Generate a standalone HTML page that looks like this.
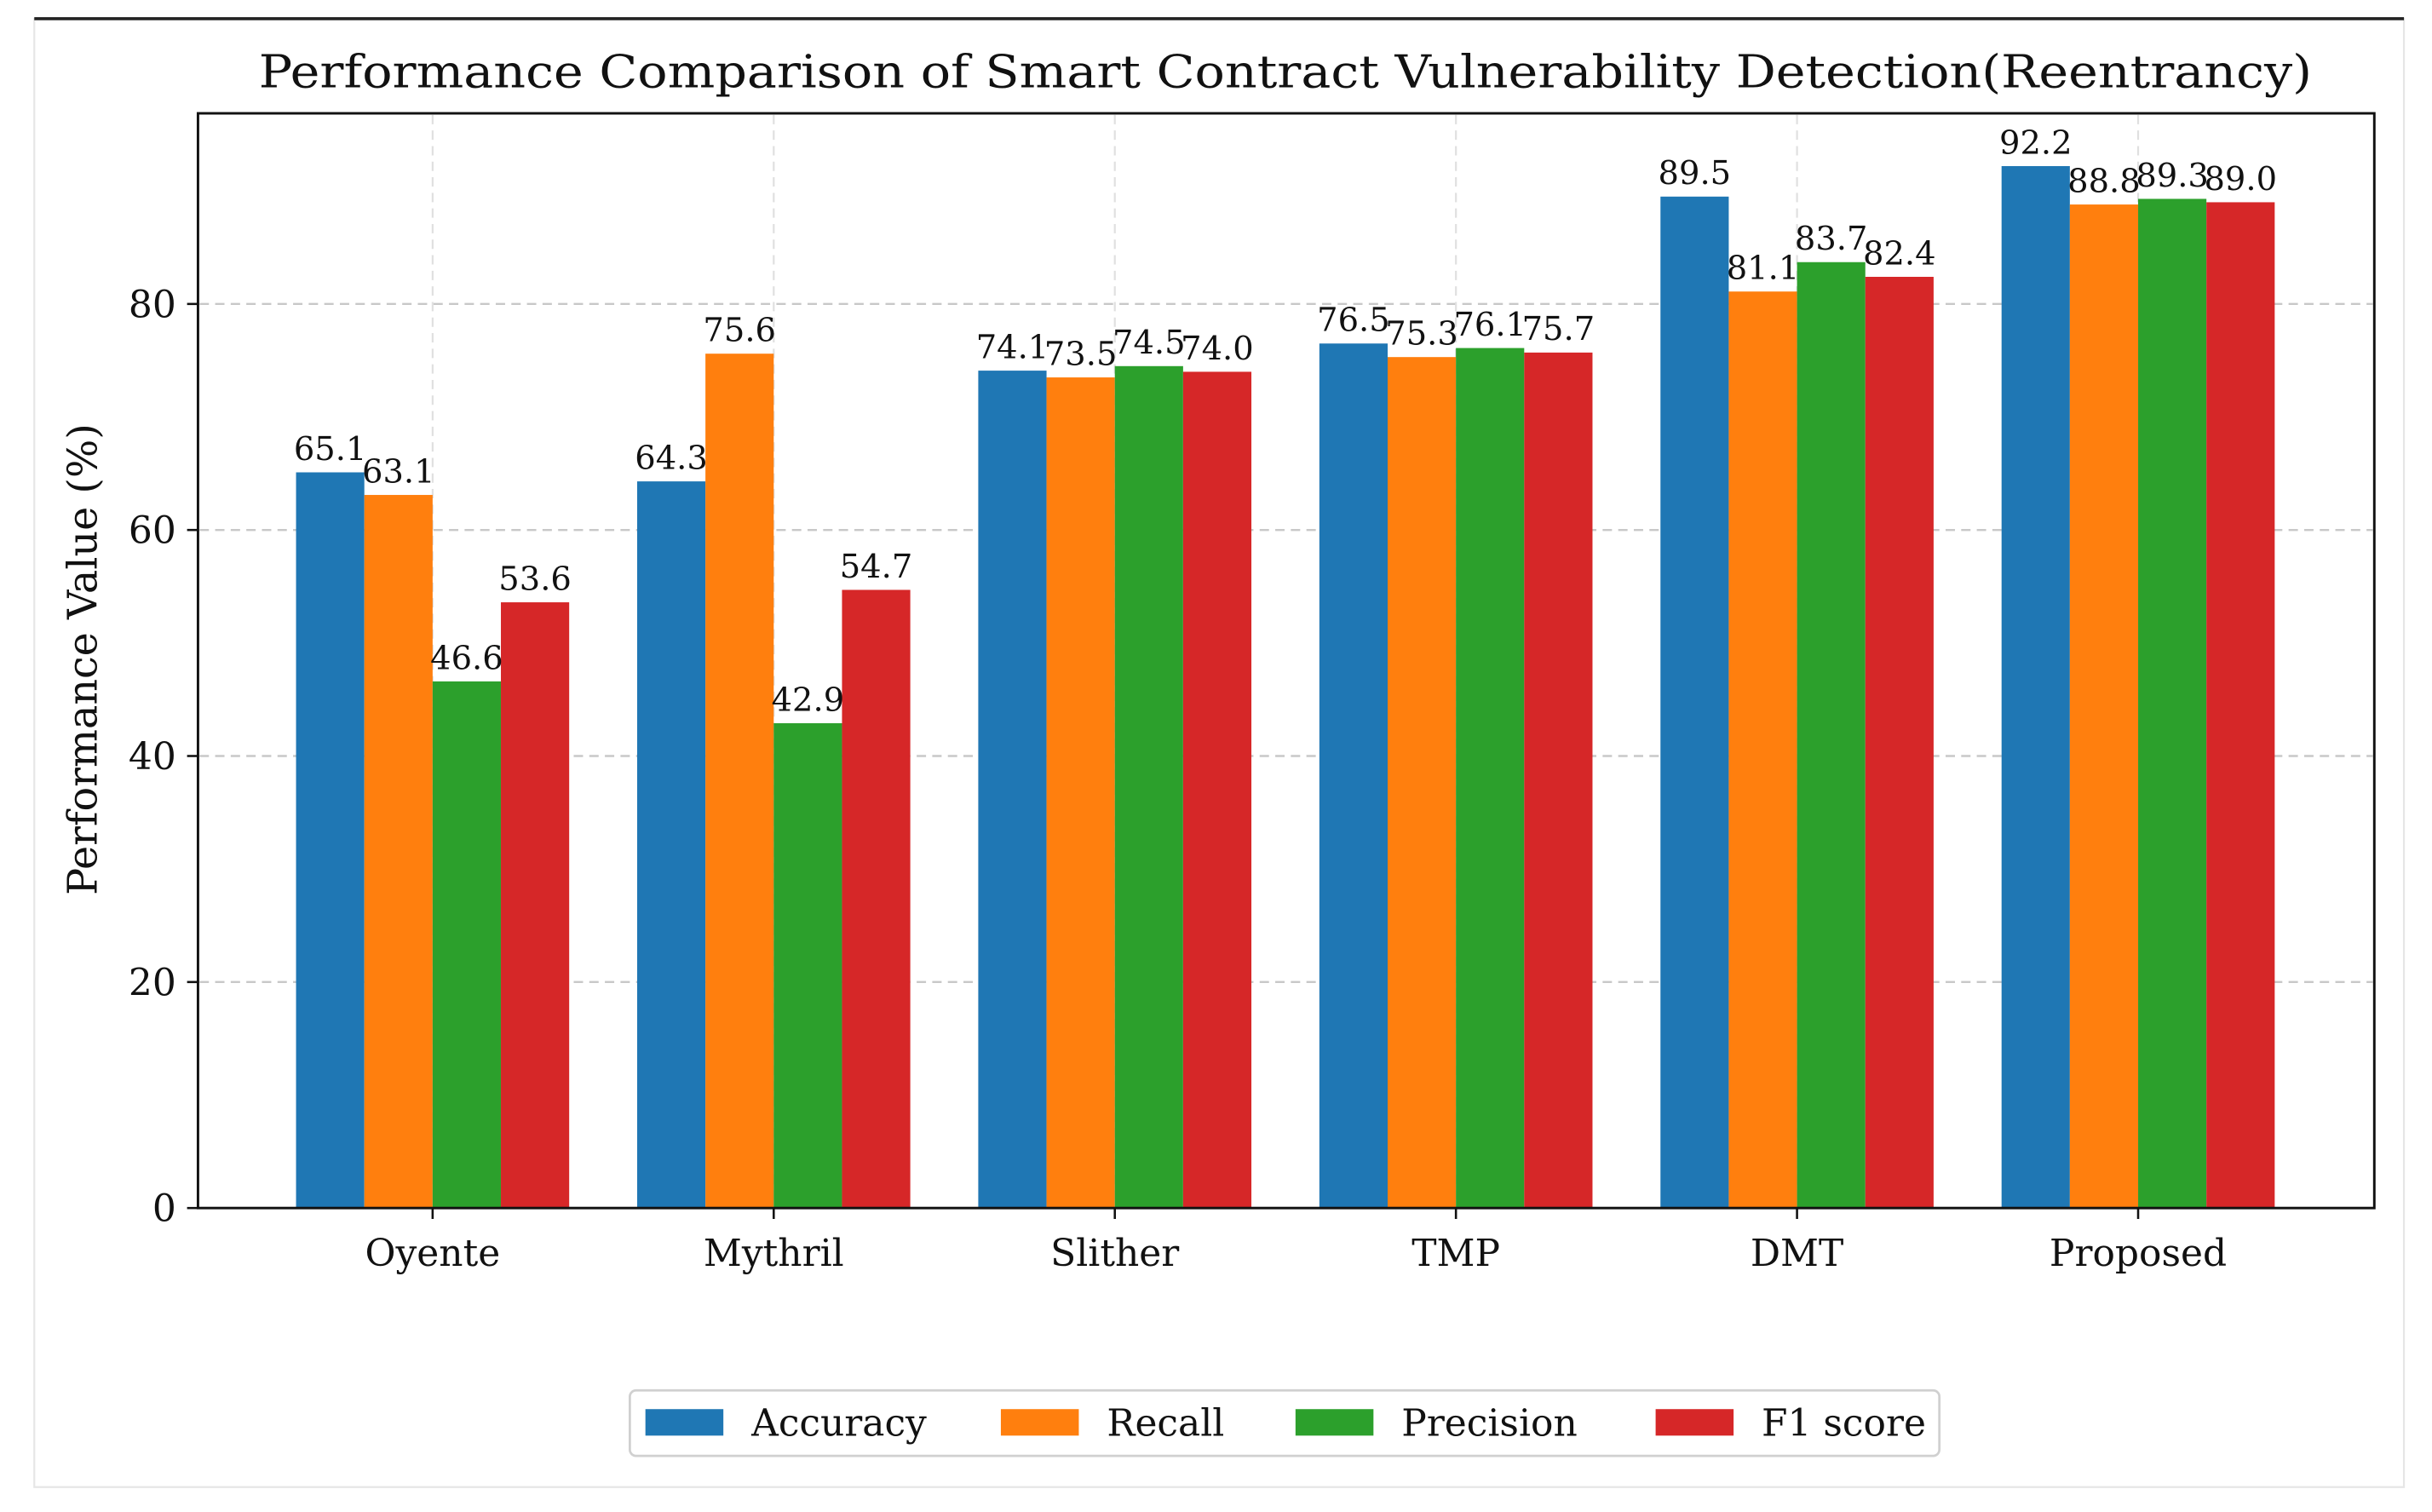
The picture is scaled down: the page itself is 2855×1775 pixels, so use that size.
<!DOCTYPE html>
<html><head><meta charset="utf-8"><style>
html,body{margin:0;padding:0;background:#fff;}
svg{display:block;}
text{font-family:"DejaVu Serif","Liberation Serif",serif;fill:#111;}
</style></head><body>
<svg id="chart" width="2855" height="1775" viewBox="0 0 1560 970" preserveAspectRatio="none" xmlns="http://www.w3.org/2000/svg">
<rect x="0" y="0" width="1560" height="970" fill="#fff"/>
<rect x="22" y="12" width="1520" height="942" fill="none" stroke="#e6e6e6" stroke-width="1.2"/>
<line x1="22" y1="12" x2="1542" y2="12" stroke="#222" stroke-width="2"/>
<text x="824.5" y="56" text-anchor="middle" font-size="29" textLength="1317" lengthAdjust="spacingAndGlyphs">Performance Comparison of Smart Contract Vulnerability Detection(Reentrancy)</text>
<g id="grid"></g>
<g id="bars"></g>
<g id="labels"></g>
<rect x="127" y="72.7" width="1396" height="702.3" fill="none" stroke="#111" stroke-width="1.6"/>
<g id="axes"></g>
<text transform="translate(62,423) rotate(-90)" text-anchor="middle" font-size="26">Performance Value (%)</text>
<g id="legend">
<rect x="404" y="892" width="840" height="42" rx="4" fill="#fff" stroke="#d0d0d0" stroke-width="1.5"/>
</g>
</svg>
<script>
const categories = ["Oyente","Mythril","Slither","TMP","DMT","Proposed"];
const seriesNames = ["Accuracy","Recall","Precision","F1 score"];
const accuracy = [65.1,64.3,74.1,76.5,89.5,92.2];
const recall = [63.1,75.6,73.5,75.3,81.1,88.8];
const precision = [46.6,42.9,74.5,76.1,83.7,89.3];
const f1score = [53.6,54.7,74.0,75.7,82.4,89.0];
const yTicks = [0,20,40,60,80];
const colors = ["#1f77b4","#ff7f0e","#2ca02c","#d62728"];
const series = [accuracy, recall, precision, f1score];

const NS = "http://www.w3.org/2000/svg";
const plotLeft = 127, plotRight = 1523, plotTop = 72.7, plotBottom = 775, yPerUnit = 7.25;
const groupStart = 277.5, groupStep = 218.8, barW = 43.8;
function xScale(i){ return groupStart + i*groupStep; }
function yScale(v){ return plotBottom - v*yPerUnit; }
function mk(tag, attrs, parent){
  const e = document.createElementNS(NS, tag);
  for (const k in attrs) e.setAttribute(k, attrs[k]);
  parent.appendChild(e);
  return e;
}
const grid = document.getElementById('grid');
const bars = document.getElementById('bars');
const labels = document.getElementById('labels');
const axes = document.getElementById('axes');
const legend = document.getElementById('legend');

yTicks.forEach(t => {
  const y = yScale(t);
  if (t > 0) {
    const g = mk('line', {x1:plotLeft+1, x2:plotRight-1, y1:y, y2:y, stroke:'#c8c8c8', 'stroke-width':1.3, 'stroke-dasharray':'6,4'}, grid);
    
    
  }
  const tk = mk('line', {x1:plotLeft-7, x2:plotLeft, y1:y, y2:y, stroke:'#111', 'stroke-width':1.4}, axes);
  
  
  const tl = mk('text', {x:plotLeft-14, y:y+8.5, 'text-anchor':'end', 'font-size':24}, axes);
  tl.textContent = t;
  
  
});

categories.forEach((c, i) => {
  const x = xScale(i);
  const g = mk('line', {x1:x, x2:x, y1:plotTop+1, y2:plotBottom-1, stroke:'#e0e0e0', 'stroke-width':1.2, 'stroke-dasharray':'6,4'}, grid);
  
  
  const tk = mk('line', {x1:x, x2:x, y1:plotBottom, y2:plotBottom+7, stroke:'#111', 'stroke-width':1.4}, axes);
  
  
  const tl = mk('text', {x:x, y:812, 'text-anchor':'middle', 'font-size':24}, axes);
  tl.textContent = c;
  
  
  series.forEach((s, j) => {
    const bx = x - 2*barW + j*barW;
    const y = yScale(s[i]);
    const r = mk('rect', {x:bx, y:y, width:barW, height:plotBottom - y, fill:colors[j]}, bars);
    
    
    const lt = mk('text', {x:bx + barW/2, y:y-8, 'text-anchor':'middle', 'font-size':21}, labels);
    lt.textContent = s[i].toFixed(1);
    
    
  });
});

const legendX = [414, 642, 831, 1062];
seriesNames.forEach((n, j) => {
  const sw = mk('rect', {x:legendX[j], y:904, width:50, height:17, fill:colors[j]}, legend);
  
  
  const t = mk('text', {x:legendX[j]+68, y:921, 'font-size':24}, legend);
  t.textContent = n;
  
  
});
</script>
</body></html>
